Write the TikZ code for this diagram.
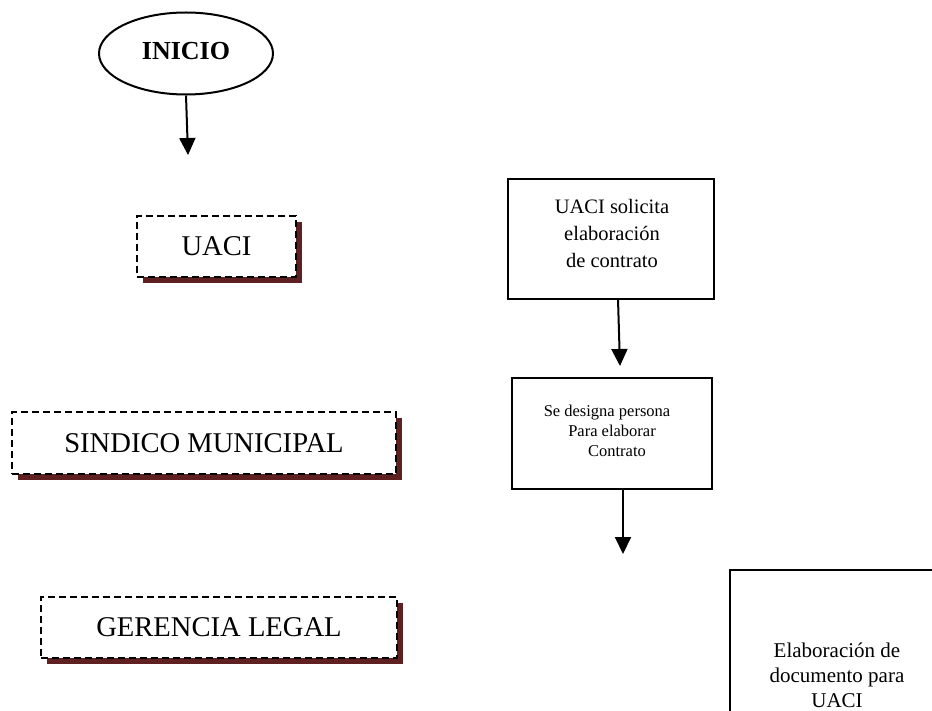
\documentclass[tikz,border=0pt]{standalone}
\usepackage{fontspec}
\setmainfont{Liberation Serif}
\usetikzlibrary{arrows.meta,shapes.geometric,shadows}
\definecolor{shadowc}{RGB}{94,32,32}
\begin{document}
\begin{tikzpicture}[x=1pt,y=-1pt,
  dbox/.style={draw=black,dash pattern=on 7pt off 4pt,line width=2pt,fill=white,inner sep=0pt,
     drop shadow={shadow xshift=6pt,shadow yshift=-6pt,fill=shadowc,opacity=1},
     font=\fontsize{28.6}{34}\selectfont},
  pbox/.style={draw=black,line width=2pt,inner sep=0pt},
  txt/.style={align=center,inner sep=0pt},
  arr/.style={line width=2pt,-{Triangle[width=16pt,length=17pt]}}]
\useasboundingbox (0,0) rectangle (932,711);
\clip (0,0) rectangle (932,711);
% start
\node[ellipse,draw,line width=2pt,minimum width=174pt,minimum height=82pt,inner sep=0pt,
  font=\bfseries\fontsize{26}{30}\selectfont,text depth=5pt] (ini) at (186,53.5) {INICIO};
\coordinate (t1) at (188,155);
\draw[arr] (ini.south) -- (t1);
% lanes
\node[dbox,minimum width=159pt,minimum height=61pt] (uaci) at (216.5,246.5) {UACI};
\node[dbox,minimum width=384pt,minimum height=62pt] (sind) at (204,443) {SINDICO MUNICIPAL};
\node[dbox,minimum width=356pt,minimum height=61pt] (ger) at (219,627.5) {GERENCIA LEGAL};
% process boxes
\node[pbox,minimum width=206pt,minimum height=120pt] (b1) at (611,239) {};
\node[txt,font=\fontsize{20.5}{27}\selectfont] (b1t) at (612,233) {UACI solicita\\elaboración\\de contrato};
\node[pbox,minimum width=200pt,minimum height=111pt] (b2) at (612,433.5) {};
\node[txt,font=\fontsize{16.5}{20}\selectfont] (b2t) at (607,431) {Se designa persona\\\hspace*{10pt}Para elaborar\\\hspace*{20pt}Contrato};
\node[pbox,line width=2.6pt,minimum width=214pt,minimum height=190pt] (b3) at (837,665) {};
\node[txt,font=\fontsize{21}{25}\selectfont] (b3t) at (837,675) {Elaboración de\\documento para\\UACI};
% arrows
\coordinate (s2) at (618,299);
\coordinate (t2) at (620,366);
\draw[arr] (s2) -- (t2);
\coordinate (s3) at (623,489);
\coordinate (t3) at (623,554);
\draw[arr] (s3) -- (t3);
\end{tikzpicture}
\end{document}
